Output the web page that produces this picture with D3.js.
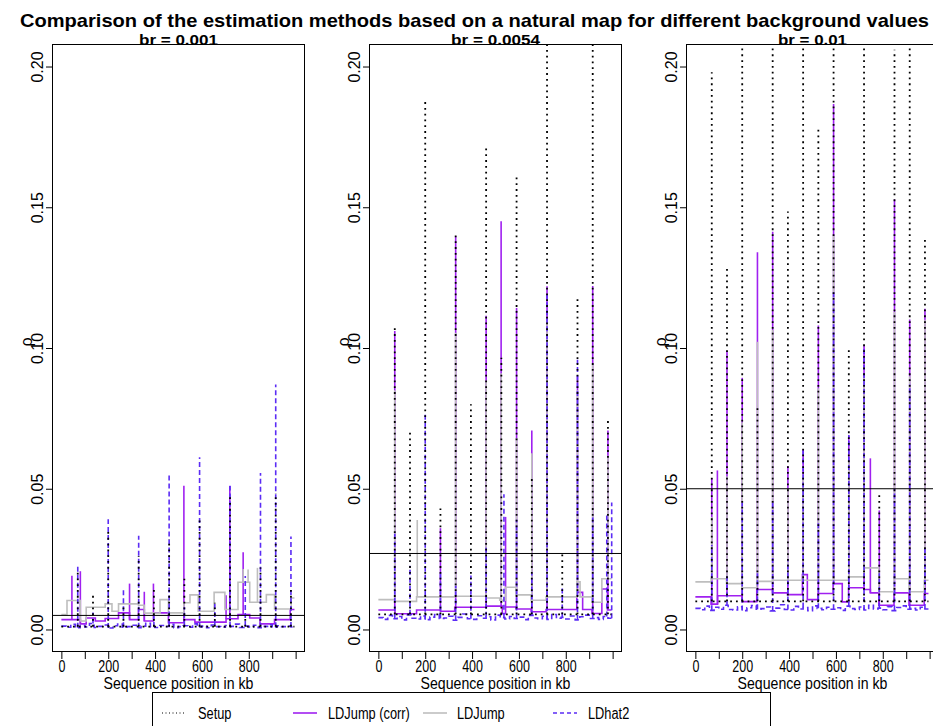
<!DOCTYPE html>
<html><head><meta charset="utf-8">
<script src="https://cdn.jsdelivr.net/npm/d3@7"></script>
<style>body{margin:0;background:#fff} text{font-family:"Liberation Sans",Arial,Helvetica,sans-serif;fill:#000}</style>
</head><body><svg id="c" width="933" height="726"></svg>
<script>
// ---------------- data ----------------
const mainTitle = "Comparison of the estimation methods based on a natural map for different background values";
const panelTitles = ["br = 0.001", "br = 0.0054", "br = 0.01"];
const xLabel = "Sequence position in kb";
const yLabel = "\u03c1";
const xTicks = [0,100,200,300,400,500,600,700,800,900,1000];
const xTickLabels = ["0","","200","","400","","600","","800","",""];
const yTicks = [0,0.05,0.10,0.15,0.20];
const yTickLabels = ["0.00","0.05","0.10","0.15","0.20"];
const seriesNames = ["Setup","LDJump (corr)","LDJump","LDhat2"];
const dataEnd = 995;

// hotspot positions of the natural map (kb)
const hotspots = [70,135,200,265,330,395,460,525,590,655,720,785,850,915,980];
// Setup (true map): background and hotspot heights per panel
const setupBase = [0.001, 0.0054, 0.01];
const setupPeaks1 = [0.021,0.013,0.035,0.008,0.026,0.015,0.032,0.018,0.039,0.0095,0.047,0.005,0.022,0.0485,0.014];
const setupPeaks2 = [0.107,0.070,0.188,0.043,0.140,0.080,0.171,0.0965,0.161,0.054,0.26,0.027,0.118,0.26,0.0755];
const setupPeaks3 = [0.198,0.129,0.35,0.080,0.26,0.1485,0.32,0.179,0.30,0.0995,0.46,0.049,0.206,0.46,0.1397];
// horizontal reference lines
const refLines = [0.005, 0.027, 0.05];

// LDJump (corr): step levels [start kb, value] and spikes [kb, peak]
const corrSteps1 = [[0,0.0035],[81,0.002],[106,0.0041],[145,0.003],[187,0.0039],[244,0.0059],[291,0.0035],[329,0.0071],[354,0.003],[393,0.0059],[457,0.0024],[523,0.0035],[570,0.0026],[703,0.0038],[754,0.0053],[804,0.0041],[848,0.002],[910,0.0035],[977,0.0071]];
const corrSpikes1 = [[45,0.0191],[81,0.0207],[291,0.0163],[354,0.0134],[393,0.0163],[523,0.0511],[703,0.0122],[719,0.051],[776,0.0274]];
const corrSteps2 = [[0,0.0069],[71,0.0056],[163,0.0069],[265,0.0065],[326,0.0079],[461,0.0083],[529,0.0056],[543,0.008],[588,0.0073],[652,0.0063],[716,0.0071],[847,0.0132],[872,0.0071],[912,0.0057],[954,0.0144],[978,0.0069]];
const corrSpikes2 = [[70,0.106],[265,0.036],[330,0.1397],[460,0.1115],[524,0.145],[543,0.040],[590,0.1142],[655,0.0707],[720,0.1219],[850,0.09],[915,0.122],[980,0.0707]];
const corrSteps3 = [[0,0.0116],[67,0.009],[95,0.012],[199,0.0099],[262,0.0142],[329,0.013],[393,0.0124],[457,0.0195],[478,0.0106],[523,0.0128],[588,0.0163],[627,0.0098],[654,0.0148],[719,0.0142],[747,0.013],[783,0.0086],[848,0.013],[912,0.0086],[977,0.0128]];
const corrSpikes3 = [[70,0.0538],[94,0.0565],[135,0.099],[200,0.0894],[265,0.134],[330,0.1413],[395,0.0581],[460,0.064],[525,0.108],[590,0.1867],[655,0.069],[720,0.1009],[747,0.0608],[785,0.0423],[850,0.1528],[915,0.1101],[980,0.1139]];

// LDJump (uncorrected)
const jumpSteps1 = [[0,0.0053],[24,0.0103],[81,0.003],[106,0.0079],[187,0.0091],[216,0.0065],[244,0.0091],[329,0.0086],[354,0.0058],[421,0.0106],[457,0.0059],[523,0.0095],[549,0.0123],[584,0.0065],[652,0.0132],[698,0.0071],[754,0.0168],[804,0.0097],[875,0.0124],[910,0.0073],[981,0.0112]];
const jumpSpikes1 = [[523,0.0095],[652,0.0132],[761,0.0169],[776,0.0215],[797,0.0213],[837,0.0219],[882,0.0124]];
const jumpSteps2 = [[0,0.0106],[71,0.010],[163,0.0116],[326,0.0118],[461,0.0112],[518,0.0104],[543,0.015],[588,0.0123],[652,0.0104],[716,0.0116],[847,0.0169],[861,0.0116],[912,0.0097],[954,0.018]];
const jumpSpikes2 = [[70,0.085],[166,0.0389],[330,0.1054],[460,0.0884],[524,0.091],[590,0.068],[655,0.0626],[720,0.11],[850,0.085],[915,0.0944],[980,0.0617]];
const jumpSteps3 = [[0,0.0169],[67,0.018],[133,0.0163],[199,0.0148],[262,0.0171],[329,0.0175],[654,0.0187],[719,0.0219],[783,0.0134],[848,0.018],[912,0.0134],[977,0.0175]];
const jumpSpikes3 = [[70,0.04],[135,0.0544],[200,0.0736],[265,0.1022],[330,0.1064],[395,0.05],[460,0.055],[525,0.0857],[590,0.14],[655,0.06],[720,0.09],[850,0.1128],[915,0.09],[980,0.11]];

// LDhat2: fine background (one value per 20 kb) and peaks at hotspots
const hatFine1 = [0.0012,0.0008,0.0018,0.0006,0.0014,0.0009,0.0021,0.0007,0.0011,0.0016,0.0005,0.0013,0.0019,0.0008,0.0010,0.0015,0.0006,0.0012,0.0022,0.0009,0.0007,0.0014,0.0011,0.0018,0.0006,0.0010,0.0013,0.0008,0.0020,0.0009,0.0012,0.0006,0.0016,0.0010,0.0008,0.0014,0.0011,0.0019,0.0007,0.0012,0.0009,0.0015,0.0006,0.0011,0.0017,0.0008,0.0013,0.0010,0.0012,0.0009];
const hatFine2 = [0.0042,0.0036,0.0050,0.0038,0.0046,0.0034,0.0052,0.0040,0.0037,0.0048,0.0035,0.0044,0.0053,0.0039,0.0041,0.0047,0.0033,0.0043,0.0055,0.0038,0.0036,0.0049,0.0040,0.0045,0.0034,0.0051,0.0042,0.0037,0.0046,0.0039,0.0044,0.0035,0.0050,0.0041,0.0038,0.0047,0.0036,0.0053,0.0040,0.0043,0.0037,0.0048,0.0034,0.0045,0.0051,0.0039,0.0042,0.0036,0.0046,0.0040];
const hatFine3 = [0.0075,0.0070,0.0083,0.0068,0.0079,0.0072,0.0086,0.0071,0.0069,0.0081,0.0067,0.0077,0.0085,0.0072,0.0074,0.0080,0.0066,0.0076,0.0088,0.0071,0.0069,0.0082,0.0073,0.0078,0.0067,0.0084,0.0075,0.0070,0.0079,0.0072,0.0077,0.0068,0.0083,0.0074,0.0071,0.0080,0.0069,0.0086,0.0073,0.0076,0.0070,0.0081,0.0067,0.0078,0.0084,0.0072,0.0075,0.0069,0.0079,0.0073];
const hatPeaks1 = [[70,0.023],[135,0.006],[200,0.0392],[265,0.0142],[330,0.0333],[395,0.005],[460,0.0556],[525,0.008],[590,0.0612],[655,0.010],[720,0.0511],[785,0.019],[850,0.0556],[915,0.087],[980,0.033]];
const hatPeaks2 = [[70,0.034],[135,0.0226],[200,0.0768],[265,0.02],[330,0.0155],[395,0.0192],[460,0.03],[536,0.048],[590,0.039],[655,0.02],[720,0.12],[785,0.015],[850,0.0958],[915,0.040],[975,0.041],[996,0.0451]];
const hatPeaks3 = [[70,0.03],[135,0.02],[200,0.045],[265,0.02],[330,0.045],[395,0.025],[460,0.064],[525,0.039],[590,0.12],[655,0.069],[720,0.10],[785,0.02],[850,0.05],[915,0.087],[980,0.03]];

// ---------------- drawing ----------------
const svg = d3.select("#c");
const panelLeft = [52, 369, 686];
const panelW = 253, plotTop = 44, plotBottom = 652;
const colSetup = "#000000", colCorr = "#A020F0", colJump = "#BEBEBE", colHat = "#5B2CF5";

function squeeze(sel, f) {
  sel.each(function(){
    const L = this.getComputedTextLength();
    this.setAttribute("textLength", L * f);
    this.setAttribute("lengthAdjust", "spacingAndGlyphs");
  });
  return sel;
}

svg.append("text").attr("x", 20).attr("y", 27)
  .attr("font-size", 18.5).attr("font-weight", "bold")
  .attr("textLength", 909).attr("lengthAdjust", "spacingAndGlyphs")
  .text(mainTitle);

const setupPeaks = [setupPeaks1, setupPeaks2, setupPeaks3];
const corrSteps = [corrSteps1, corrSteps2, corrSteps3];
const corrSpikes = [corrSpikes1, corrSpikes2, corrSpikes3];
const jumpSteps = [jumpSteps1, jumpSteps2, jumpSteps3];
const jumpSpikes = [jumpSpikes1, jumpSpikes2, jumpSpikes3];
const hatFine = [hatFine1, hatFine2, hatFine3];
const hatPeaks = [hatPeaks1, hatPeaks2, hatPeaks3];
const subWidths = [79, 89, 69];

function levelAt(steps, xv) {
  let v = steps[0][1];
  for (const s of steps) if (s[0] <= xv) v = s[1];
  return v;
}

panelLeft.forEach((L, p) => {
  const x = d3.scaleLinear().domain([-40, 1040]).range([L, L + panelW]);
  const y = d3.scaleLinear().domain([-0.008, 0.208]).range([plotBottom, plotTop]);
  const g = svg.append("g");
  const clipId = "clip" + p;
  svg.append("clipPath").attr("id", clipId).append("rect")
    .attr("x", L).attr("y", plotTop).attr("width", panelW).attr("height", plotBottom - plotTop);
  const plot = g.append("g").attr("clip-path", `url(#${clipId})`);

  const stepLine = d3.line().x(d => x(d[0])).y(d => y(d[1])).curve(d3.curveStepAfter);

  function drawSeries(steps, spikes, color, width, dash) {
    const pts = steps.concat([[dataEnd, steps[steps.length - 1][1]]]);
    plot.append("path").attr("d", stepLine(pts)).attr("fill", "none")
      .attr("stroke", color).attr("stroke-width", width)
      .attr("stroke-dasharray", dash);
    plot.selectAll(null).data(spikes).enter().append("line")
      .attr("x1", d => x(d[0])).attr("x2", d => x(d[0]))
      .attr("y1", d => y(levelAt(steps, d[0]))).attr("y2", d => y(d[1]))
      .attr("stroke", color).attr("stroke-width", width)
      .attr("stroke-dasharray", dash);
  }

  drawSeries(corrSteps[p], corrSpikes[p], colCorr, 1.6, null);
  drawSeries(jumpSteps[p], jumpSpikes[p], colJump, 1.6, null);
  const fineSteps = hatFine[p].map((v, i) => [i * 20, v]);
  drawSeries(fineSteps, hatPeaks[p], colHat, 1.6, "5,3");
  const setupSteps = [[0, setupBase[p]]];
  drawSeries(setupSteps, hotspots.map((h, i) => [h, setupPeaks[p][i]]), colSetup, 1.8, "1.8,4");

  plot.append("line").attr("x1", L).attr("x2", L + panelW)
    .attr("y1", y(refLines[p])).attr("y2", y(refLines[p]))
    .attr("stroke", "#000").attr("stroke-width", 1);

  g.append("rect").attr("x", L + 0.5).attr("y", plotTop + 0.5)
    .attr("width", panelW - 1).attr("height", plotBottom - plotTop - 1)
    .attr("fill", "none").attr("stroke", "#000").attr("stroke-width", 1);

  const xa = g.append("g").attr("transform", `translate(0,${plotBottom})`)
    .call(d3.axisBottom(x).tickValues(xTicks).tickSize(7)
      .tickFormat((d, i) => xTickLabels[i]));
  xa.select(".domain").remove();
  xa.selectAll(".tick line").attr("stroke", "#000");
  xa.selectAll(".tick text").filter(function(){ return this.textContent === ""; }).remove();
  xa.selectAll(".tick text").attr("font-size", 16).attr("font-family", null)
    .attr("y", 9).attr("dy", "0.71em");
  squeeze(xa.selectAll(".tick text"), 0.78);

  const ya = g.append("g").attr("transform", `translate(${L},0)`)
    .call(d3.axisLeft(y).tickValues(yTicks).tickSize(6)
      .tickFormat((d, i) => yTickLabels[i]));
  ya.select(".domain").remove();
  ya.selectAll(".tick line").attr("stroke", "#000");
  ya.selectAll(".tick text").attr("font-size", 16).attr("font-family", null)
    .attr("x", null).attr("dy", null)
    .attr("text-anchor", "middle")
    .attr("transform", "translate(-9,0) rotate(-90)");

  g.append("text").attr("x", L + panelW / 2).attr("y", 45)
    .attr("text-anchor", "middle").attr("font-size", 14).attr("font-weight", "bold")
    .attr("textLength", subWidths[p]).attr("lengthAdjust", "spacingAndGlyphs")
    .text(panelTitles[p]);
  const xl = g.append("text").attr("x", L + panelW / 2).attr("y", 689)
    .attr("text-anchor", "middle").attr("font-size", 17).text(xLabel);
  squeeze(xl, 0.83);
  g.append("text").attr("transform", `translate(${L - 20},${(plotTop + plotBottom) / 2 - 6}) rotate(-90)`)
    .attr("text-anchor", "middle").attr("font-size", 16).text(yLabel);
});

const lg = svg.append("g");
lg.append("rect").attr("x", 152.5).attr("y", 692.5).attr("width", 618).attr("height", 45)
  .attr("fill", "#fff").attr("stroke", "#000").attr("stroke-width", 1);
const legItems = [
  {sx: 162, tx: 198, color: colSetup, w: 1, dash: "1,2.5"},
  {sx: 293, tx: 328, color: colCorr, w: 1.6, dash: null},
  {sx: 423, tx: 457, color: colJump, w: 1.6, dash: null},
  {sx: 553, tx: 588, color: colHat, w: 1.3, dash: "4,3"}
];
legItems.forEach((it, i) => {
  lg.append("line").attr("x1", it.sx).attr("x2", it.sx + 24).attr("y1", 713).attr("y2", 713)
    .attr("stroke", it.color).attr("stroke-width", it.w).attr("stroke-dasharray", it.dash);
  const t = lg.append("text").attr("x", it.tx).attr("y", 719).attr("font-size", 16).text(seriesNames[i]);
  squeeze(t, 0.8);
});
</script></body></html>
